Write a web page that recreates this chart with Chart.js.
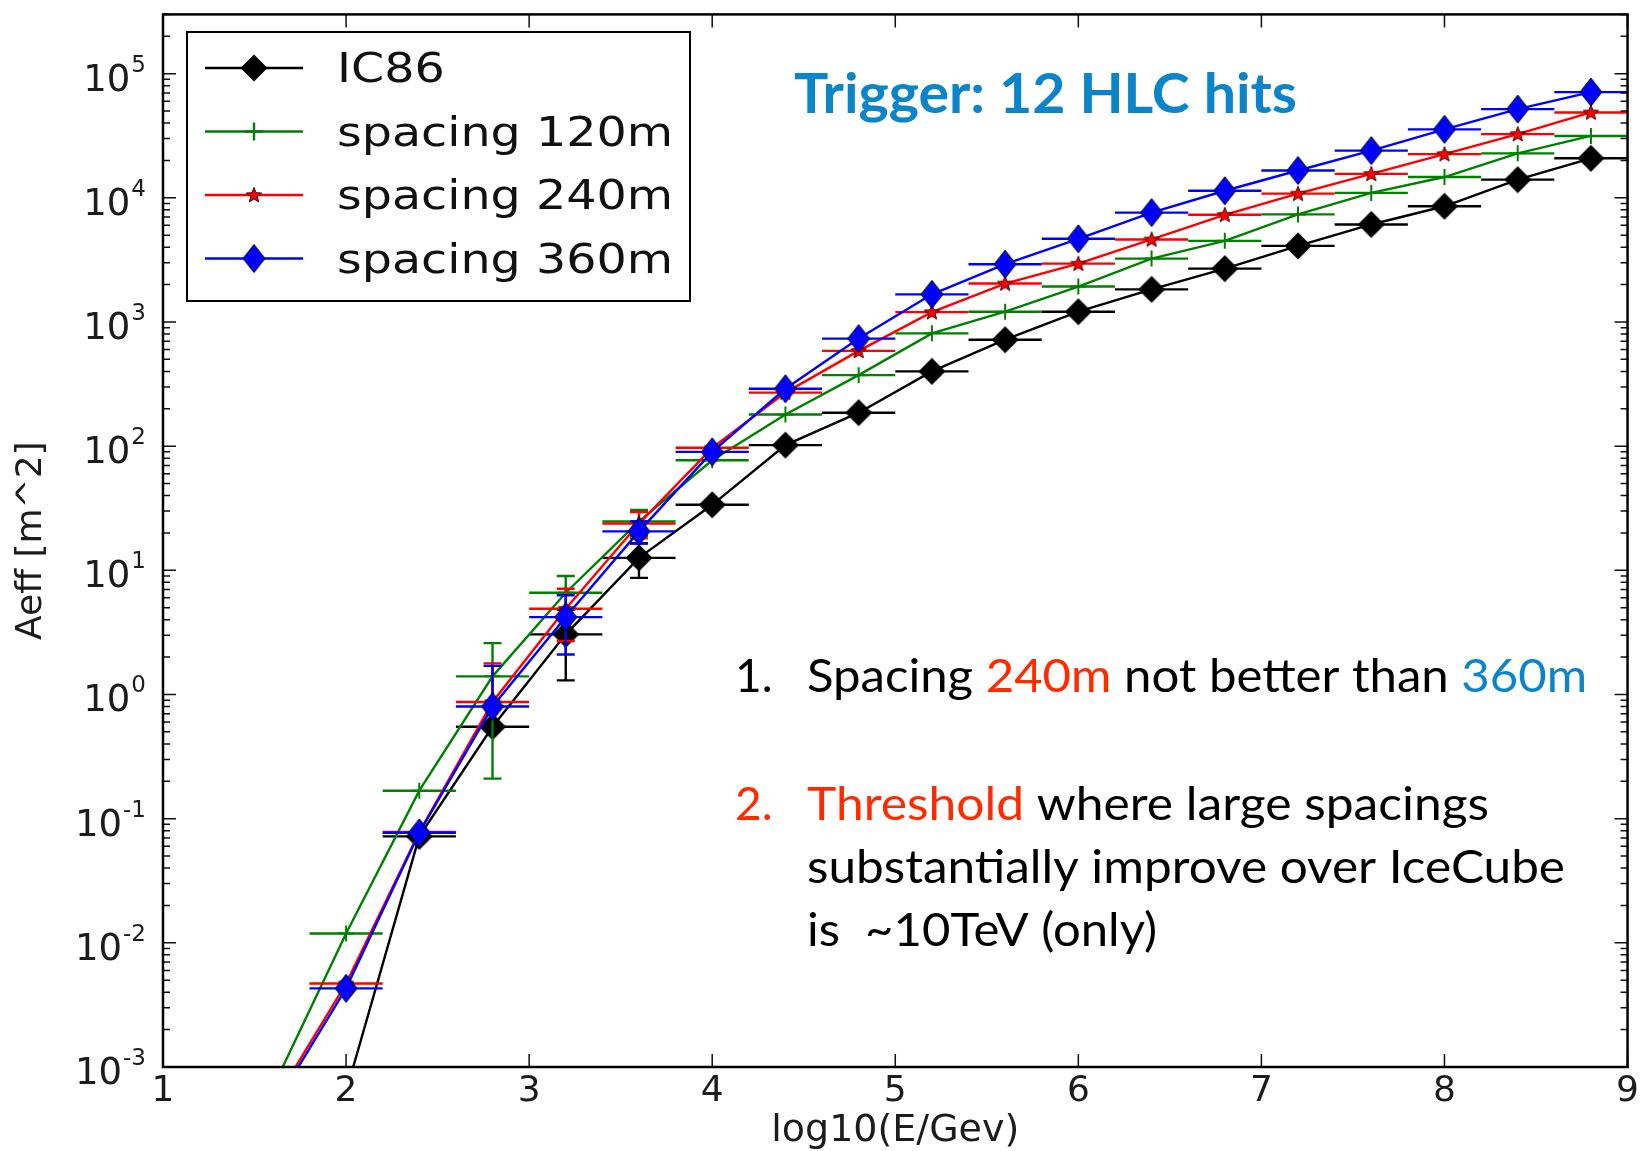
<!DOCTYPE html>
<html>
<head>
<meta charset="utf-8">
<title>Aeff vs energy</title>
<script src="https://cdn.jsdelivr.net/npm/chart.js@4.4.1/dist/chart.umd.min.js"></script>
<style>
  html, body { margin: 0; padding: 0; background: #fff; }
  canvas { display: block; }
</style>
</head>
<body>
<canvas id="aeffChart" width="1646" height="1151"></canvas>
<script>
// bin centres in log10(E/GeV), each bin is +-0.2 wide
const energyBins = [1.6, 2.0, 2.4, 2.8, 3.2, 3.6, 4.0, 4.4, 4.8, 5.2, 5.6, 6.0, 6.4, 6.8, 7.2, 7.6, 8.0, 8.4, 8.8];
const binHalfWidth = 0.2;

// effective area in m^2 (first points sit below the axis and are clipped)
const aeffIC86 = [null, 6.3e-4, 0.072, 0.55, 3.05, 12.6, 33.7, 102, 186, 400, 720, 1210, 1830, 2690, 4100, 6100, 8550, 14000, 20800];
const aeff120 = [6.8e-4, 0.0119, 0.168, 1.40, 6.6, 24.8, 77, 180, 373, 810, 1210, 1930, 3240, 4500, 7350, 10950, 14700, 22800, 31500];
const aeff240 = [5.0e-4, 0.0047, 0.078, 0.87, 4.9, 23.8, 97, 270, 585, 1200, 2040, 2950, 4620, 7300, 10800, 15600, 22500, 32600, 48700];
const aeff360 = [4.6e-4, 0.0043, 0.077, 0.80, 4.2, 20.6, 90, 290, 735, 1670, 2920, 4680, 7600, 11400, 16600, 24000, 35600, 51800, 71000];

// symmetric errors in m^2, null where they hide behind the marker
const errIC86 = [null, null, null, null, 1.75, 3.9, null, null, null, null, null, null, null, null, null, null, null, null, null];
const err120 = [null, null, null, 1.19, 2.4, 5.9, null, null, null, null, null, null, null, null, null, null, null, null, null];
const err240 = [null, null, null, 0.91, 2.2, 5.7, null, null, null, null, null, null, null, null, null, null, null, null, null];
const err360 = [null, null, null, 0.90, 2.1, 4.2, null, null, null, null, null, null, null, null, null, null, null, null, null];

const seriesNames = ['IC86', 'spacing 120m', 'spacing 240m', 'spacing 360m'];
const xTicks = [1, 2, 3, 4, 5, 6, 7, 8, 9];
const yTickExponents = [-3, -2, -1, 0, 1, 2, 3, 4, 5];
const yMin = 1e-3;
const yMax = 3e5;

const textColor = '#1c1c1c';
const lineWidth = 2.4;

function makeMarker(w, h, draw) {
    const c = document.createElement('canvas');
    c.width = w;
    c.height = h;
    draw(c.getContext('2d'), w, h);
    return c;
}

const blackDiamond = makeMarker(28, 28, function(g, w, h) {
    g.beginPath();
    g.moveTo(w / 2, 0.5); g.lineTo(w - 0.5, h / 2); g.lineTo(w / 2, h - 0.5); g.lineTo(0.5, h / 2);
    g.closePath();
    g.fillStyle = '#000';
    g.fill();
});

const blueDiamond = makeMarker(24, 30, function(g, w, h) {
    g.beginPath();
    g.moveTo(w / 2, 1); g.lineTo(w - 1, h / 2); g.lineTo(w / 2, h - 1); g.lineTo(1, h / 2);
    g.closePath();
    g.fillStyle = '#0000ff';
    g.fill();
    g.lineWidth = 1;
    g.strokeStyle = '#000';
    g.stroke();
});

const redStar = makeMarker(18, 18, function(g, w, h) {
    g.beginPath();
    for (let k = 0; k < 10; k++) {
        const r = k % 2 === 0 ? 8 : 3.4;
        const a = -Math.PI / 2 + k * Math.PI / 5;
        const px = w / 2 + r * Math.cos(a), py = h / 2 + 0.5 + r * Math.sin(a);
        if (k === 0) g.moveTo(px, py); else g.lineTo(px, py);
    }
    g.closePath();
    g.fillStyle = '#ff0000';
    g.fill();
    g.lineWidth = 1;
    g.strokeStyle = '#3a0000';
    g.stroke();
});

function toPoints(values) {
    return energyBins.map((x, i) => ({ x: x, y: values[i] }));
}

// horizontal bin bars and vertical error bars, drawn under each series' own line
const errorBars = {
    id: 'errorBars',
    beforeDatasetDraw(chart, args) {
        const ds = chart.data.datasets[args.index];
        const xs = chart.scales.x, ys = chart.scales.y, area = chart.chartArea;
        const ctx = chart.ctx;
        ctx.save();
        ctx.beginPath();
        ctx.rect(area.left, area.top, area.right - area.left, area.bottom - area.top);
        ctx.clip();
        ctx.strokeStyle = ds.borderColor;
        ctx.lineWidth = lineWidth;
        ds.data.forEach(function(p, i) {
            if (p.y == null) return;
            const py = ys.getPixelForValue(p.y);
            ctx.beginPath();
            ctx.moveTo(xs.getPixelForValue(p.x - binHalfWidth), py);
            ctx.lineTo(xs.getPixelForValue(p.x + binHalfWidth), py);
            ctx.stroke();
            const e = ds.yErr[i];
            if (!e) return;
            const px = xs.getPixelForValue(p.x);
            const hi = ys.getPixelForValue(p.y + e);
            const loVal = p.y - e;
            const lo = loVal > 0 ? ys.getPixelForValue(loVal) : py;
            ctx.beginPath();
            ctx.moveTo(px, lo); ctx.lineTo(px, hi);
            ctx.moveTo(px - 9, hi); ctx.lineTo(px + 9, hi);
            if (loVal > 0) { ctx.moveTo(px - 9, lo); ctx.lineTo(px + 9, lo); }
            ctx.stroke();
        });
        ctx.restore();
    }
};

// matplotlib-like frame, inward ticks and 10^n labels
const frameAndTicks = {
    id: 'frameAndTicks',
    afterDatasetsDraw(chart) {
        const ctx = chart.ctx, a = chart.chartArea;
        const xs = chart.scales.x, ys = chart.scales.y;
        ctx.save();
        ctx.strokeStyle = '#111';
        ctx.lineWidth = 1.5;
        ctx.beginPath();
        xTicks.forEach(function(v) {
            const px = xs.getPixelForValue(v);
            ctx.moveTo(px, a.bottom); ctx.lineTo(px, a.bottom - 13);
            ctx.moveTo(px, a.top); ctx.lineTo(px, a.top + 13);
        });
        yTickExponents.forEach(function(e) {
            for (let m = 1; m <= 9; m++) {
                const v = m * Math.pow(10, e);
                if (v < yMin || v > yMax) continue;
                const py = ys.getPixelForValue(v);
                const len = m === 1 ? 13 : 7;
                ctx.moveTo(a.left, py); ctx.lineTo(a.left + len, py);
                ctx.moveTo(a.right, py); ctx.lineTo(a.right - len, py);
            }
        });
        ctx.stroke();

        ctx.lineWidth = 2.5;
        ctx.strokeStyle = '#000';
        ctx.strokeRect(a.left, a.top, a.right - a.left, a.bottom - a.top);

        ctx.fillStyle = textColor;
        const right = a.left - 17;
        yTickExponents.forEach(function(e) {
            const py = ys.getPixelForValue(Math.pow(10, e));
            const sup = String(e);
            ctx.font = '23px "DejaVu Sans"';
            const sw = ctx.measureText(sup).width;
            ctx.textAlign = 'left';
            ctx.textBaseline = 'alphabetic';
            ctx.fillText(sup, right - sw, py - 2);
            ctx.font = '37px "DejaVu Sans"';
            ctx.textAlign = 'right';
            ctx.fillText('10', right - sw - 1, py + 17);
        });
        ctx.restore();
    }
};

function drawRuns(ctx, runs, x, baseline, targetWidth) {
    let total = 0;
    runs.forEach(r => { total += ctx.measureText(r[0]).width; });
    const sx = targetWidth ? targetWidth / total : 1;
    ctx.save();
    ctx.translate(x, baseline);
    ctx.scale(sx, 1);
    let cx = 0;
    runs.forEach(function(r) {
        ctx.fillStyle = r[1];
        ctx.fillText(r[0], cx, 0);
        cx += ctx.measureText(r[0]).width;
    });
    ctx.restore();
}

// legend box in the upper left and the slide annotations
const overlay = {
    id: 'overlay',
    afterDraw(chart) {
        const ctx = chart.ctx;
        const datasets = chart.data.datasets;
        ctx.save();

        ctx.fillStyle = '#fff';
        ctx.fillRect(187, 32, 503, 269);
        ctx.lineWidth = 2;
        ctx.strokeStyle = '#000';
        ctx.strokeRect(187, 32, 503, 269);

        ctx.font = '40px "DejaVu Sans"';
        const legendScale = 336 / ctx.measureText(seriesNames[1]).width;
        const order = [0, 1, 2, 3];
        order.forEach(function(k, row) {
            const ds = datasets.find(d => d.seriesIndex === k);
            const y = 68 + row * 63.5;
            ctx.strokeStyle = ds.borderColor;
            ctx.lineWidth = lineWidth;
            ctx.beginPath();
            ctx.moveTo(205, y); ctx.lineTo(303, y);
            ctx.stroke();
            if (typeof ds.pointStyle === 'string') {
                ctx.beginPath();
                ctx.moveTo(245, y); ctx.lineTo(263, y);
                ctx.moveTo(254, y - 9); ctx.lineTo(254, y + 9);
                ctx.stroke();
            } else {
                const img = ds.pointStyle;
                ctx.drawImage(img, 254 - img.width / 2, y - img.height / 2);
            }
            ctx.save();
            ctx.translate(337, y + 14);
            ctx.scale(legendScale, 1);
            ctx.fillStyle = '#111';
            ctx.textAlign = 'left';
            ctx.textBaseline = 'alphabetic';
            ctx.fillText(seriesNames[k], 0, 0);
            ctx.restore();
        });

        const blue = '#0a84cb', red = '#ff2a00', black = '#000';
        ctx.textAlign = 'left';
        ctx.textBaseline = 'alphabetic';
        ctx.font = 'bold 55px Lato';
        drawRuns(ctx, [['Trigger: 12 HLC hits', blue]], 794, 113, 503);

        ctx.font = '46px Lato';
        drawRuns(ctx, [['1.', black]], 735, 692);
        drawRuns(ctx, [['Spacing ', black], ['240m', red], [' not better than ', black], ['360m', blue]], 807, 692, 780);
        drawRuns(ctx, [['2.', red]], 735, 820);
        drawRuns(ctx, [['Threshold', red], [' where large spacings', black]], 807, 820, 682);
        drawRuns(ctx, [['substantially improve over IceCube', black]], 807, 883, 758);
        drawRuns(ctx, [['is  ~10TeV (only)', black]], 807, 946, 350);
        ctx.restore();
    }
};

document.addEventListener('DOMContentLoaded', function() {
    const ctx = document.getElementById('aeffChart').getContext('2d');

    const lineDefaults = { borderWidth: lineWidth, tension: 0, fill: false, showLine: true, clip: 0, spanGaps: false };

    new Chart(ctx, {
        type: 'line',
        data: {
            datasets: [
                Object.assign({ label: seriesNames[0], seriesIndex: 0, order: 4, data: toPoints(aeffIC86), yErr: errIC86,
                    borderColor: '#000000', pointStyle: blackDiamond, pointRadius: 12 }, lineDefaults),
                Object.assign({ label: seriesNames[1], seriesIndex: 1, order: 3, data: toPoints(aeff120), yErr: err120,
                    borderColor: '#008000', pointStyle: 'cross', pointRadius: 8, pointBorderColor: '#008000', pointBorderWidth: 2 }, lineDefaults),
                Object.assign({ label: seriesNames[2], seriesIndex: 2, order: 2, data: toPoints(aeff240), yErr: err240,
                    borderColor: '#ff0000', pointStyle: redStar, pointRadius: 8 }, lineDefaults),
                Object.assign({ label: seriesNames[3], seriesIndex: 3, order: 1, data: toPoints(aeff360), yErr: err360,
                    borderColor: '#0000ff', pointStyle: blueDiamond, pointRadius: 12 }, lineDefaults)
            ]
        },
        options: {
            responsive: false,
            animation: false,
            events: [],
            layout: { padding: { top: 10, right: 17, left: 0, bottom: 0 } },
            plugins: {
                legend: { display: false },
                tooltip: { enabled: false }
            },
            scales: {
                x: {
                    type: 'linear',
                    position: 'bottom',
                    min: 1,
                    max: 9,
                    afterBuildTicks: function(scale) { scale.ticks = xTicks.map(v => ({ value: v })); },
                    afterFit: function(scale) { scale.height = 84; },
                    grid: { display: false, drawTicks: false },
                    border: { display: false },
                    ticks: {
                        autoSkip: false,
                        maxRotation: 0,
                        padding: 7,
                        color: textColor,
                        font: { family: 'DejaVu Sans', size: 36, lineHeight: 1 }
                    },
                    title: {
                        display: true,
                        text: 'log10(E/Gev)',
                        color: textColor,
                        font: { family: 'DejaVu Sans', size: 38, lineHeight: 1 },
                        padding: { top: 0, bottom: 1 }
                    }
                },
                y: {
                    type: 'logarithmic',
                    position: 'left',
                    min: yMin,
                    max: yMax,
                    afterBuildTicks: function(scale) { scale.ticks = yTickExponents.map(e => ({ value: Math.pow(10, e) })); },
                    afterFit: function(scale) { scale.width = 163; },
                    grid: { display: false, drawTicks: false },
                    border: { display: false },
                    ticks: { display: false },
                    title: {
                        display: true,
                        text: 'Aeff [m^2]',
                        color: textColor,
                        font: { family: 'DejaVu Sans', size: 36, lineHeight: 1.2 },
                        padding: { top: 10, bottom: 0 }
                    }
                }
            }
        },
        plugins: [errorBars, frameAndTicks, overlay]
    });
});
</script>
</body>
</html>
